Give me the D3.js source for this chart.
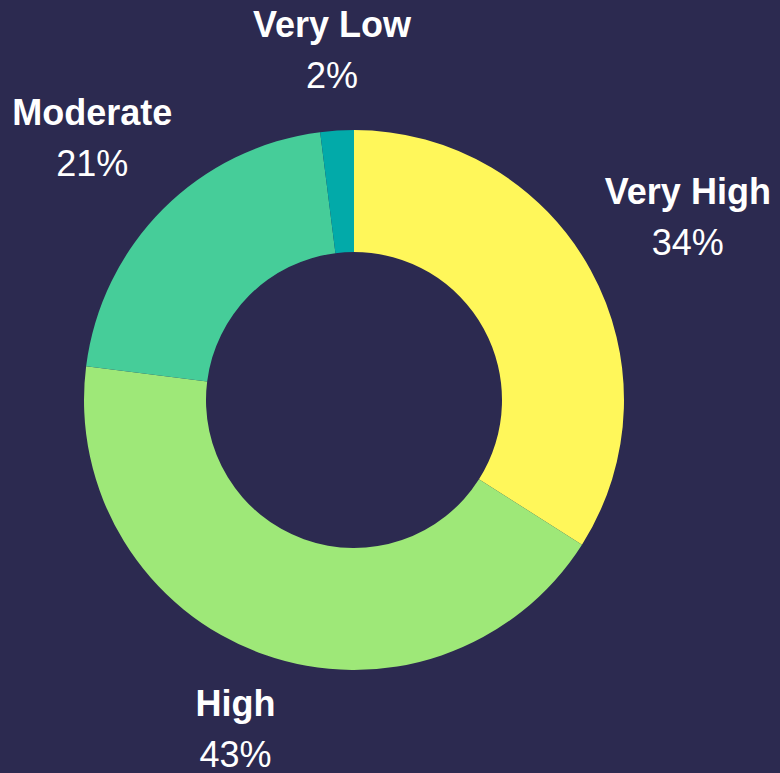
<!DOCTYPE html>
<html>
<head>
<meta charset="utf-8">
<script src="https://cdn.jsdelivr.net/npm/d3@7"></script>
<style>
  html, body { margin: 0; padding: 0; background: #2c2a50; }
  svg { display: block; }
</style>
</head>
<body>
<svg id="chart" width="780" height="773"></svg>
<script>
// Category shares, clockwise from 12 o'clock
const categories = ['Very High', 'High', 'Moderate', 'Very Low'];
const shares     = [34, 43, 21, 2];
const colors     = ['#fff75a', '#9ee878', '#46cd99', '#02aaa9'];

const W = 780, H = 773;
const cx = 354, cy = 400;
const outerR = 270, innerR = 148;
const labelR = 305;   // anchor point just outside the ring
const fontSize = 36, lineGap = 51;

const svg = d3.select('#chart');
svg.append('rect').attr('width', W).attr('height', H).attr('fill', '#2c2a50');

const data = categories.map((c, i) => ({ name: c, value: shares[i], color: colors[i] }));

const pie = d3.pie().value(d => d.value).sort(null);
const arc = d3.arc().innerRadius(innerR).outerRadius(outerR);

const g = svg.append('g').attr('transform', `translate(${cx},${cy})`);
const arcs = pie(data);

g.selectAll('path.slice')
  .data(arcs)
  .join('path')
  .attr('class', 'slice')
  .attr('d', arc)
  .attr('fill', d => d.data.color);

// Labels: a two-line block pushed outward from an anchor point outside the ring
const total = d3.sum(shares);
const labels = g.selectAll('g.label')
  .data(arcs)
  .join('g')
  .attr('class', 'label');

labels.each(function(d) {
  const sel = d3.select(this);
  const name = sel.append('text')
    .attr('text-anchor', 'middle')
    .attr('font-family', 'Liberation Sans, Arial, sans-serif')
    .attr('font-weight', 'bold')
    .attr('font-size', fontSize)
    .attr('fill', '#ffffff')
    .attr('y', -lineGap / 2 + fontSize * 0.35)
    .text(d.data.name);
  const pct = sel.append('text')
    .attr('text-anchor', 'middle')
    .attr('font-family', 'Liberation Sans, Arial, sans-serif')
    .attr('font-size', fontSize)
    .attr('fill', '#ffffff')
    .attr('y', lineGap / 2 + fontSize * 0.35)
    .text(Math.round(d.data.value / total * 100) + '%');

  const w = Math.max(name.node().getComputedTextLength(), pct.node().getComputedTextLength());
  const h = lineGap + fontSize * 1.1;
  const a = (d.startAngle + d.endAngle) / 2;
  const dx = Math.sin(a), dy = -Math.cos(a);
  // distance from block centre to its edge along the direction (elliptical approx)
  const t = Math.hypot(dx * w / 2, dy * h / 2);
  const x = dx * (labelR + t), y = dy * (labelR + t);
  sel.attr('transform', `translate(${x},${y})`);
});
</script>
</body>
</html>
